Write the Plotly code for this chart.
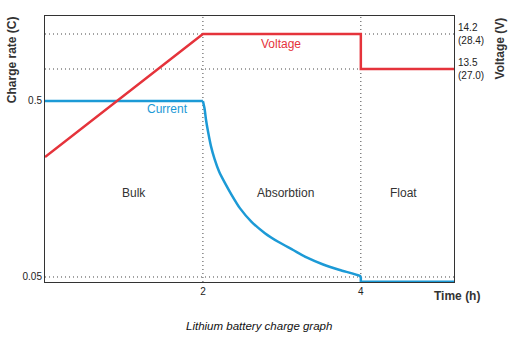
import plotly.graph_objects as go

# Charge stages (time in hours)
stage_names = ["Bulk", "Absorbtion", "Float"]
stage_label_x = [1.13, 3.04, 4.54]
stage_bounds = [2, 4]

# Charge current (C rate)
current_flat_t = [0.0, 2.0]
current_flat_c = [0.5, 0.5]
current_abs_t = [2.0, 2.022, 2.038, 2.067, 2.101, 2.148, 2.206, 2.285, 2.363, 2.468,
                 2.616, 2.785, 2.953, 3.143, 3.313, 3.523, 3.734, 3.987, 4.0]
current_abs_c = [0.5, 0.479, 0.453, 0.419, 0.385, 0.351, 0.319, 0.288, 0.260, 0.226,
                 0.191, 0.162, 0.140, 0.119, 0.100, 0.082, 0.068, 0.053, 0.05]
current_float_t = [4.0, 4.0, 5.18]
current_float_c = [0.05, 0.038, 0.038]

# Charging voltage (V), 12 V system (24 V in brackets)
voltage_t = [0.0, 2.0, 4.0, 4.0, 5.18]
voltage_v = [11.74, 14.2, 14.2, 13.5, 13.5]

rate_ticks = [0.05, 0.5]
rate_labels = ["0.05", "0.5"]
volt_ticks = [14.2, 13.5]
volt_labels = ["14.2<br>(28.4)", "13.5<br>(27.0)"]
time_ticks = [2, 4]

RED = "#e5333b"
BLUE = "#1c9ad6"
GRID = "#444444"
FONT = "Liberation Sans, Arial, sans-serif"
DOTS = "1px,3px"

fig = go.Figure()

fig.add_trace(go.Scatter(x=voltage_t, y=voltage_v, mode="lines", yaxis="y2",
                         line=dict(color=RED, width=2.5), showlegend=False))
fig.add_trace(go.Scatter(x=current_flat_t, y=current_flat_c, mode="lines",
                         line=dict(color=BLUE, width=2.5), showlegend=False))
fig.add_trace(go.Scatter(x=current_abs_t, y=current_abs_c, mode="lines",
                         line=dict(color=BLUE, width=2.5, shape="spline", smoothing=0.6),
                         showlegend=False))
fig.add_trace(go.Scatter(x=current_float_t, y=current_float_c, mode="lines",
                         line=dict(color=BLUE, width=2.5), showlegend=False))

shapes = []
for t in stage_bounds:
    shapes.append(dict(type="line", xref="x", yref="paper", x0=t, x1=t, y0=0, y1=1,
                       line=dict(color=GRID, width=1, dash=DOTS), layer="below"))
for v in volt_ticks:
    shapes.append(dict(type="line", xref="paper", yref="y2", x0=0, x1=1, y0=v, y1=v,
                       line=dict(color=GRID, width=1, dash=DOTS), layer="below"))
shapes.append(dict(type="line", xref="paper", yref="y", x0=0, x1=1, y0=0.05, y1=0.05,
                   line=dict(color=GRID, width=1, dash=DOTS), layer="below"))


def label(x, y, text, xref, yref, size=12, color="#333333", angle=0):
    return dict(x=x, y=y, xref=xref, yref=yref, text=text, showarrow=False,
                xanchor="center", yanchor="middle", textangle=angle,
                font=dict(family=FONT, size=size, color=color))


annotations = [label(x, 0.264, name, "x", "y") for name, x in zip(stage_names, stage_label_x)]
annotations += [
    label(2.99, 14.0, "Voltage", "x", "y2", color=RED),
    label(1.557, 0.48, "Current", "x", "y", color=BLUE),
    label(1.007, -0.053, "<b>Time (h)</b>", "paper", "paper"),
    label(-0.08, 0.835, "<b>Charge rate (C)</b>", "paper", "paper", angle=-90),
    label(1.1125, 0.878, "<b>Voltage (V)</b>", "paper", "paper", angle=-90),
    label(0.523, -0.165, "<i>Lithium battery charge graph</i>", "paper", "paper",
          size=11.5, color="#111111"),
]

fig.update_layout(
    width=518, height=337,
    margin=dict(l=45, r=64, t=16, b=55),
    paper_bgcolor="white", plot_bgcolor="white",
    font=dict(family=FONT, size=10, color="#222222"),
    xaxis=dict(range=[0, 5.18], tickvals=time_ticks, showgrid=False, zeroline=False,
               showline=True, mirror=True, linecolor="#333333", linewidth=1, ticks=""),
    yaxis=dict(range=[0.0372, 0.717], tickvals=rate_ticks, ticktext=rate_labels,
               showgrid=False, zeroline=False, showline=True, mirror=True,
               linecolor="#333333", linewidth=1, ticks=""),
    yaxis2=dict(range=[9.24, 14.56], overlaying="y", side="right", tickvals=volt_ticks,
                ticktext=volt_labels, showgrid=False, zeroline=False, showline=False,
                ticks="", ticklabelstandoff=3),
    shapes=shapes, annotations=annotations,
)

fig.write_html("out.html")
